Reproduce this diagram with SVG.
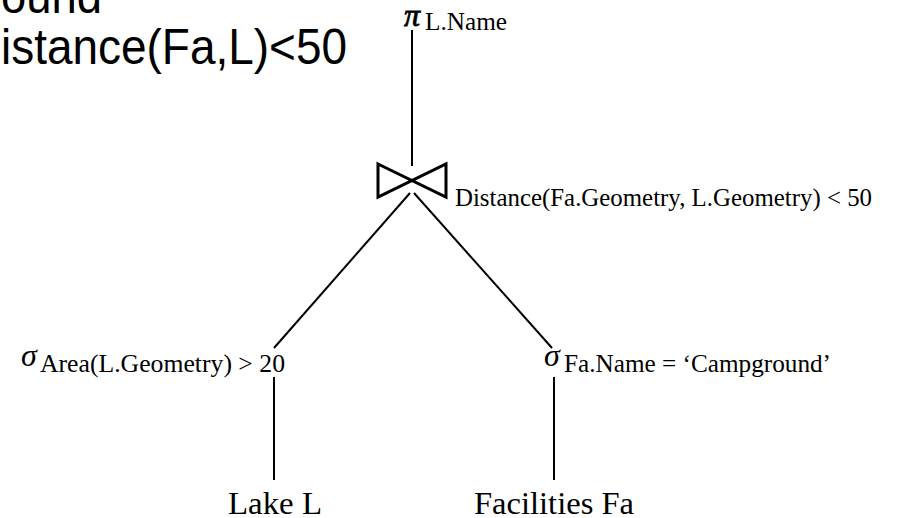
<svg xmlns="http://www.w3.org/2000/svg" width="904" height="518" viewBox="0 0 904 518">
  <style>
    .slide { font-family: "Liberation Sans", "Open Sans", sans-serif; font-size: 50px; fill: #000; }
    .op { font-family: "Liberation Serif", "DejaVu Serif", serif; font-style: italic; font-size: 32px; fill: #000; }
    .pi { stroke: #000; stroke-width: 0.8; }
    .sub { font-family: "Liberation Serif", "DejaVu Serif", serif; font-size: 25px; fill: #000; }
    .rel { font-family: "Liberation Serif", "DejaVu Serif", serif; font-size: 32px; fill: #000; }
    .edge { stroke: #000; stroke-width: 2; fill: none; }
    .bowtie { stroke: #000; stroke-width: 3; fill: none; stroke-linejoin: miter; }
  </style>

  <rect width="904" height="518" fill="#fff"/>

  <!-- slide text behind the tree, clipped by the frame -->
  <g id="slide-text">
    <text class="slide" x="1" y="13" textLength="101" lengthAdjust="spacingAndGlyphs">ound</text>
    <text class="slide" x="1" y="64" textLength="346" lengthAdjust="spacingAndGlyphs">istance(Fa,L)&lt;50</text>
  </g>

  <!-- connectors -->
  <g id="edges">
    <line class="edge" x1="412" y1="30" x2="412" y2="166"/>
    <line class="edge" x1="410" y1="193" x2="274" y2="348"/>
    <line class="edge" x1="414" y1="193" x2="552" y2="348"/>
    <line class="edge" x1="274" y1="377" x2="274" y2="480"/>
    <line class="edge" x1="554" y1="377" x2="554" y2="480"/>
  </g>

  <!-- projection -->
  <g id="project">
    <text class="op pi" x="404" y="26">π</text>
    <text class="sub" x="425" y="30" textLength="82" lengthAdjust="spacingAndGlyphs">L.Name</text>
  </g>

  <!-- join -->
  <g id="join">
    <path class="bowtie" d="M378,164 L446,197 L446,164 L378,197 Z"/>
    <text class="sub" x="455" y="206" textLength="417" lengthAdjust="spacingAndGlyphs">Distance(Fa.Geometry, L.Geometry) &lt; 50</text>
  </g>

  <!-- selection on Lake -->
  <g id="select-lake">
    <text class="op" x="21" y="366">σ</text>
    <text class="sub" x="40" y="372" textLength="245" lengthAdjust="spacingAndGlyphs">Area(L.Geometry) &gt; 20</text>
  </g>

  <!-- selection on Facilities -->
  <g id="select-facilities">
    <text class="op" x="544" y="366">σ</text>
    <text class="sub" x="564" y="372" textLength="267" lengthAdjust="spacingAndGlyphs">Fa.Name = ‘Campground’</text>
  </g>

  <!-- base relations -->
  <g id="lake">
    <text class="rel" x="228" y="514" textLength="94" lengthAdjust="spacingAndGlyphs">Lake L</text>
  </g>
  <g id="facilities">
    <text class="rel" x="474" y="514" textLength="160" lengthAdjust="spacingAndGlyphs">Facilities Fa</text>
  </g>
</svg>
